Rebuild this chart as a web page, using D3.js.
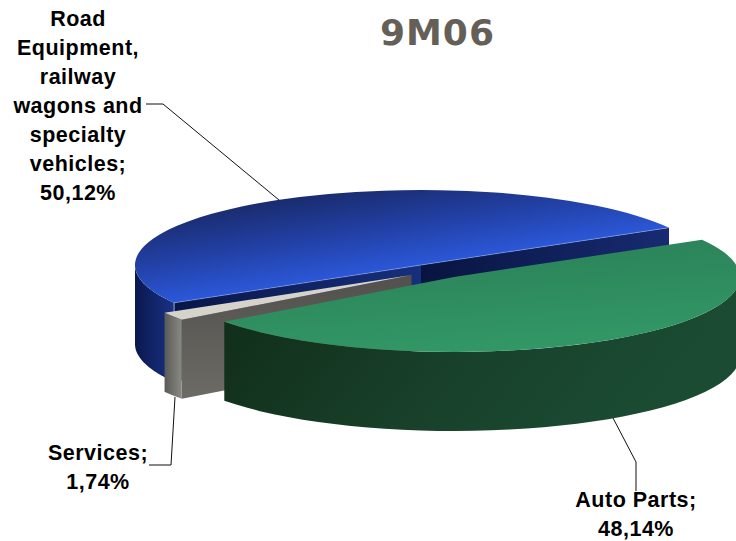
<!DOCTYPE html>
<html><head><meta charset="utf-8">
<style>html,body{margin:0;padding:0;background:#fff}svg{display:block}</style>
<script src="https://cdn.jsdelivr.net/npm/d3@7/dist/d3.min.js"></script>
</head><body><svg id="c" width="736" height="541"></svg>
<script>
const chartTitle = "9M06";
const categories = ["Road Equipment, railway wagons and specialty vehicles", "Auto Parts", "Services"];
const shares = [50.12, 48.14, 1.74];
const valueLabels = ["50,12%", "48,14%", "1,74%"];

const W = 736, H = 541, RX = 286, RY = 75, DEPTH = 79;
const deg = d3.scaleLinear().domain([0,360]).range([0,2*Math.PI]);
const startAt = deg(-120.3);
const pie = d3.pie().sort(null).value(d=>d).startAngle(startAt).endAngle(startAt+2*Math.PI);
const arcs = pie(shares);
const centers = [[421,265],[454,277],[411.5,275]];
const svg = d3.select("#c");
const defs = svg.append("defs");
function grad(id,x1,y1,x2,y2,stops,user){
  const g=defs.append("linearGradient").attr("id",id).attr("x1",x1).attr("y1",y1).attr("x2",x2).attr("y2",y2);
  if(user) g.attr("gradientUnits","userSpaceOnUse");
  stops.forEach(s=>g.append("stop").attr("offset",s[0]).attr("stop-color",s[1]));
}
grad("blueTop",-141,-248,0,0,[[0,"#1a2c70"],[.5,"#2240a4"],[1,"#2b57d8"]],true);
grad("blueWall",0,0,1,0,[[0,"#0a1850"],[1,"#1a3284"]]);
grad("blueCutL",0,0,1,0,[[0,"#081648"],[1,"#172f7c"]]);
grad("blueCutR",0,0,1,0,[[0,"#081440"],[1,"#172b72"]]);
grad("greenTop",.3,0,.6,1,[[0,"#2b8058"],[1,"#329866"]]);
grad("greenWall",0,0,1,.25,[[0,"#102c18"],[.55,"#18402a"],[1,"#1b4c33"]]);
grad("grayWall",0,0,1,0,[[0,"#5a5a56"],[1,"#8a8a84"]]);
grad("grayCut",0,0,0,1,[[0,"#51504c"],[1,"#6c6b66"]]);

const arcGen = d3.arc().innerRadius(0).outerRadius(RX);
const pt = (c,a,dy=0)=>[c[0]+RX*Math.sin(a), c[1]-RY*Math.cos(a)+dy];
const line = d3.line();
function wall(c,a0,a1){
  const as=d3.range(0,41).map(i=>a0+(a1-a0)*i/40);
  return line(as.map(a=>pt(c,a)).concat(as.slice().reverse().map(a=>pt(c,a,DEPTH))))+"Z";
}
function cut(c,a){
  const p=pt(c,a);
  return line([c,p,[p[0],p[1]+DEPTH],[c[0],c[1]+DEPTH]])+"Z";
}
function topFace(c,d,fill){
  svg.append("path").attr("d",arcGen(d))
    .attr("transform",`translate(${c[0]},${c[1]}) scale(1,${RY/RX})`).attr("fill",fill);
}
// Blue slice
const b=arcs[0], bc=centers[0];
svg.append("path").attr("d",wall(bc,b.startAngle,deg(-90))).attr("fill","url(#blueWall)");
svg.append("path").attr("d",cut(bc,b.startAngle)).attr("fill","url(#blueCutL)");
svg.append("path").attr("d",cut(bc,b.endAngle)).attr("fill","url(#blueCutR)");
topFace(bc,b,"url(#blueTop)");
const bp0=pt(bc,b.startAngle), bp1=pt(bc,b.endAngle);
svg.append("path").attr("d",line([bp0,bc,bp1])).attr("fill","none").attr("stroke","#8fa4de").attr("stroke-width",.6);
svg.append("path").attr("d",line([bp0,[bp0[0],bp0[1]+12]])).attr("fill","none").attr("stroke","#b8c4e8").attr("stroke-width",.8);
// Services slice
const s=arcs[2], sc=centers[2];
svg.append("path").attr("d",cut(sc,s.startAngle)).attr("fill","url(#grayCut)");
svg.append("path").attr("d",wall(sc,s.startAngle,s.endAngle)).attr("fill","url(#grayWall)");
topFace(sc,s,"#d6d3ca");
// Green slice
const g=arcs[1], gc=centers[1];
svg.append("path").attr("d",wall(gc,deg(90),g.endAngle)).attr("fill","url(#greenWall)");
topFace(gc,g,"url(#greenTop)");

// Leader lines
const leaders=[[[146,104],[163,104],[279,200]],[[175,397],[171,465],[149,465]],[[613,418],[636,462],[636,491]]];
leaders.forEach(l=>svg.append("path").attr("d",line(l)).attr("fill","none").attr("stroke","#111").attr("stroke-width",1));

// Text
svg.append("text").text(chartTitle).attr("x",437.5).attr("y",45).attr("text-anchor","middle")
  .attr("font-family","DejaVu Sans").attr("font-weight","bold").attr("font-size",36).attr("letter-spacing",1).attr("fill","#655f58");
function label(x,y,lines){
  const t=svg.append("text").attr("text-anchor","middle").attr("font-family","Liberation Sans")
    .attr("font-weight","bold").attr("font-size",21.5).attr("letter-spacing",.5).attr("fill","#000");
  lines.forEach((l,i)=>t.append("tspan").attr("x",x).attr("y",y+i*29).text(l));
}
label(78,26,["Road","Equipment,","railway","wagons and","specialty","vehicles;",valueLabels[0]]);
label(98,460,[categories[2]+";",valueLabels[2]]);
label(636,507,[categories[1]+";",valueLabels[1]]);
</script></body></html>
